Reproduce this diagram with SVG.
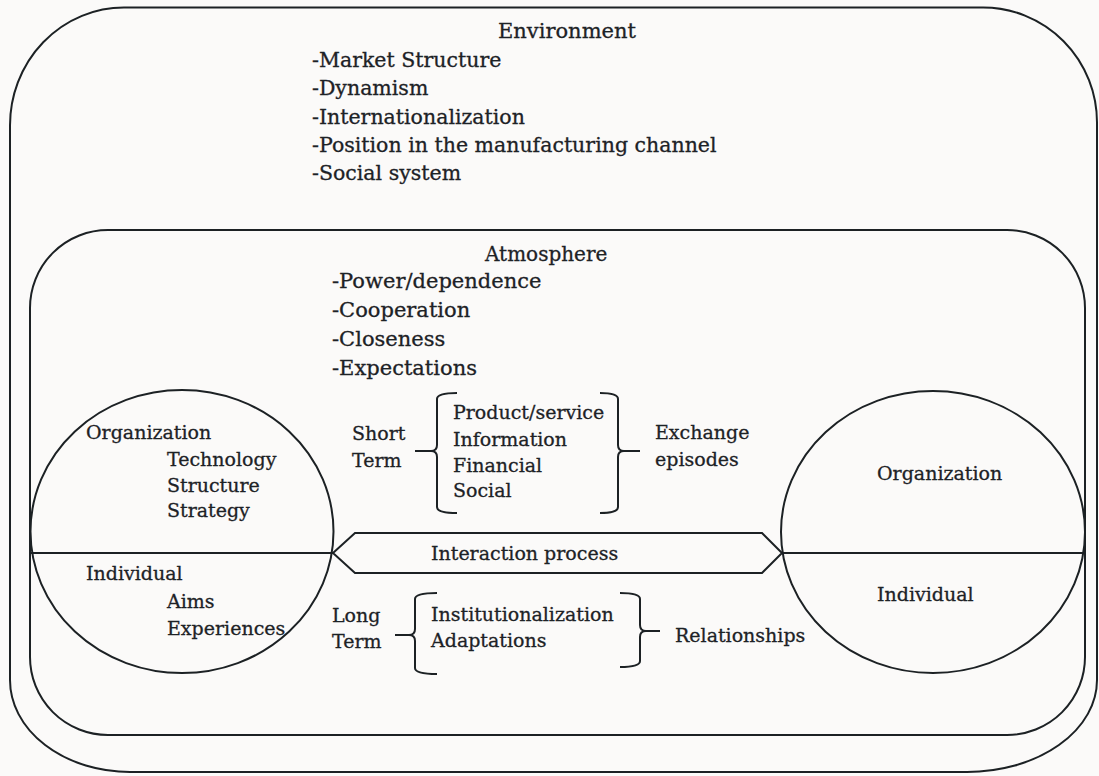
<svg xmlns="http://www.w3.org/2000/svg" width="1099" height="776" viewBox="0 0 1099 776">
<style>
.ln{fill:none;stroke:#1c2124;stroke-width:2}
.t{font-family:"DejaVu Serif","Liberation Serif",serif;font-size:19px;fill:#1d2226;stroke:#1d2226;stroke-width:0.3}
.env{font-size:20.5px}
.atm{font-size:21px}
</style>
<rect x="0" y="0" width="1099" height="776" fill="#fbfaf9"/>
<g id="environment">
<path class="ln" d="M124,7.5 H983 A114,115 0 0 1 1097,122.5 V680 A130,92 0 0 1 967,772 H130 A120,92 0 0 1 10,680 V126 A114,118 0 0 1 124,7.5 Z"/>
<text class="t" x="498" y="38" style="font-size:21px">Environment</text>
<text class="t env" x="312" y="67">-Market Structure</text>
<text class="t env" x="312" y="95.3">-Dynamism</text>
<text class="t env" x="312" y="123.6">-Internationalization</text>
<text class="t env" x="312" y="152">-Position in the manufacturing channel</text>
<text class="t env" x="312" y="180">-Social system</text>
</g>
<g id="atmosphere">
<rect class="ln" x="30" y="230" width="1055" height="505" rx="78" ry="78"/>
<text class="t" x="485" y="261" style="font-size:20px">Atmosphere</text>
<text class="t atm" x="332" y="288">-Power/dependence</text>
<text class="t atm" x="332" y="317">-Cooperation</text>
<text class="t atm" x="332" y="346">-Closeness</text>
<text class="t atm" x="332" y="375">-Expectations</text>
</g>
<g id="party-left">
<ellipse class="ln" cx="182" cy="531.5" rx="151.5" ry="141.5"/>
<line class="ln" x1="30" y1="553" x2="333" y2="553"/>
<text class="t" x="86" y="439">Organization</text>
<text class="t" x="167" y="466">Technology</text>
<text class="t" x="167" y="492">Structure</text>
<text class="t" x="167" y="517">Strategy</text>
<text class="t" x="86" y="580">Individual</text>
<text class="t" x="167" y="608">Aims</text>
<text class="t" x="167" y="635">Experiences</text>
</g>
<g id="party-right">
<ellipse class="ln" cx="933" cy="532" rx="152" ry="141"/>
<line class="ln" x1="781" y1="553" x2="1085" y2="553"/>
<text class="t" x="877" y="480">Organization</text>
<text class="t" x="877" y="601">Individual</text>
</g>
<g id="interaction-process">
<polygon class="ln" points="333,553 355,533 762,533 782,553 762,573 355,573"/>
<text class="t" x="431" y="560">Interaction process</text>
</g>
<g id="short-term">
<text class="t" x="352" y="440">Short</text>
<text class="t" x="352" y="467">Term</text>
<text class="t" x="453" y="419">Product/service</text>
<text class="t" x="453" y="446">Information</text>
<text class="t" x="453" y="472">Financial</text>
<text class="t" x="453" y="497">Social</text>
<text class="t" x="655" y="439">Exchange</text>
<text class="t" x="655" y="466">episodes</text>
</g>
<g id="long-term">
<text class="t" x="332" y="622">Long</text>
<text class="t" x="332" y="648">Term</text>
<text class="t" x="431" y="621">Institutionalization</text>
<text class="t" x="431" y="647">Adaptations</text>
<text class="t" x="675" y="642">Relationships</text>
</g>
<g id="connectors">
<path class="ln" d="M457,393 Q437,393 437,399 V445 Q437,451 431,451 H415 M431,451 Q437,451 437,457 V507 Q437,513 457,513"/>
<path class="ln" d="M600,393 Q618,393 618,399 V445 Q618,451 624,451 H640 M624,451 Q618,451 618,457 V507 Q618,513 600,513"/>
<path class="ln" d="M437,593 Q415,593 415,599 V629 Q415,635 409,635 H395 M409,635 Q415,635 415,641 V668 Q415,674 437,674"/>
<path class="ln" d="M620,593 Q640,593 640,599 V625 Q640,631 646,631 H660 M646,631 Q640,631 640,637 V661 Q640,667 620,667"/>
</g>
</svg>
